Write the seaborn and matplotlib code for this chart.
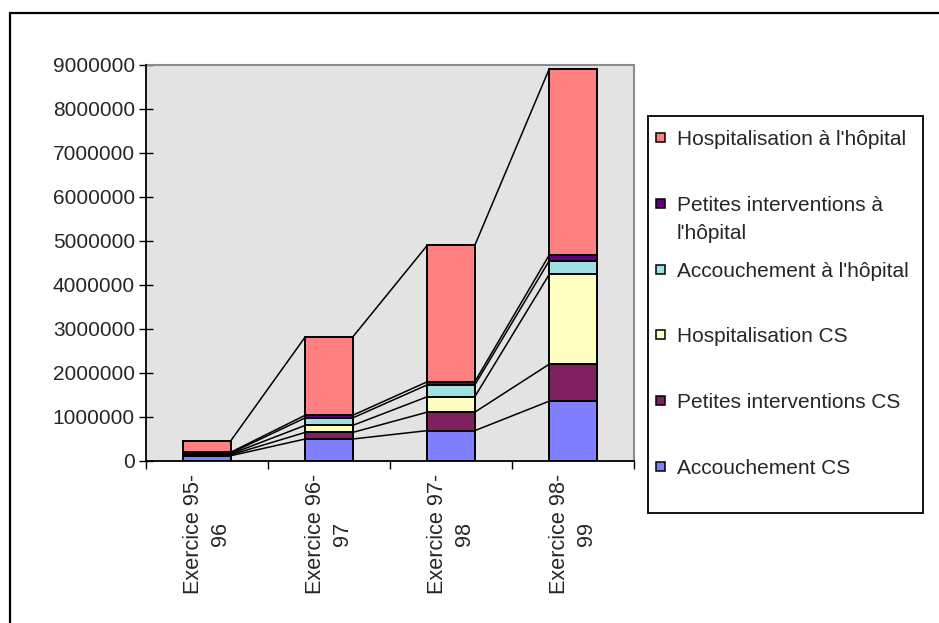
import matplotlib
matplotlib.use("Agg")
import matplotlib.pyplot as plt
from matplotlib.patches import Rectangle
from matplotlib.lines import Line2D
import numpy as np
import pandas as pd
import seaborn as sns

# Exercise periods (x categories)
categories = ["Exercice 95-\n96", "Exercice 96-\n97", "Exercice 97-\n98", "Exercice 98-\n99"]

# Stacked series, bottom to top
series_names = [
    "Accouchement CS",
    "Petites interventions CS",
    "Hospitalisation CS",
    "Accouchement à l'hôpital",
    "Petites interventions à\nl'hôpital",
    "Hospitalisation à l'hôpital",
]
accouchement_cs = [120000, 500000, 690000, 1360000]
petites_interventions_cs = [20000, 150000, 420000, 840000]
hospitalisation_cs = [20000, 160000, 350000, 2040000]
accouchement_hopital = [20000, 170000, 270000, 310000]
petites_interventions_hopital = [20000, 60000, 70000, 130000]
hospitalisation_hopital = [260000, 1780000, 3100000, 4230000]

series_colors = ["#8080FF", "#802060", "#FFFFC0", "#A0E0E0", "#600080", "#FF8080"]
y_ticks = [0, 1000000, 2000000, 3000000, 4000000, 5000000, 6000000, 7000000, 8000000, 9000000]

series_values = [
    accouchement_cs,
    petites_interventions_cs,
    hospitalisation_cs,
    accouchement_hopital,
    petites_interventions_hopital,
    hospitalisation_hopital,
]

sns.set_style("white")
plt.rcParams["font.family"] = ["Liberation Sans", "DejaVu Sans"]

W, H = 939, 623
FS = 15
fig = plt.figure(figsize=(W / 100, H / 100), dpi=100)


def fx(px):
    return px / W


def fy(py):
    return 1 - py / H


ax = fig.add_axes([fx(146), fy(461), fx(634) - fx(146), fy(65) - fy(461)])
ax.set_facecolor("#E3E3E3")

# cumulative stack heights
cum = np.cumsum(np.array(series_values, dtype=float), axis=0)
df = pd.DataFrame({
    "exercice": np.tile(categories, len(series_names)),
    "serie": np.repeat(series_names, len(categories)),
    "cumul": cum.ravel(),
})

bar_width = 0.39
# draw the tallest cumulative bars first so each segment sits on top of the one below
for k in range(len(series_names) - 1, -1, -1):
    sub = df[df["serie"] == series_names[k]]
    sns.barplot(data=sub, x="exercice", y="cumul", color=series_colors[k],
                saturation=1, edgecolor="black", linewidth=1.4, width=bar_width,
                errorbar=None, ax=ax, zorder=2)

# series lines joining segment tops between neighbouring bars
half = bar_width / 2
for k in range(len(series_names)):
    for i in range(len(categories) - 1):
        ax.plot([i + half, i + 1 - half], [cum[k, i], cum[k, i + 1]],
                color="black", lw=1.1, zorder=1.5, solid_capstyle="butt")

ax.set_xlim(-0.5, len(categories) - 0.5)
ax.set_ylim(0, 9000000)
ax.set_yticks(y_ticks)
ax.set_yticklabels([str(v) for v in y_ticks], fontsize=FS)
ax.tick_params(axis="y", direction="inout", length=10, width=1, color="black", pad=3, left=True)

ax.set_xticks(np.arange(-0.5, len(categories), 1.0))
ax.set_xticklabels([])
ax.set_xticks(np.arange(len(categories)), minor=True)
ax.set_xticklabels(categories, minor=True, rotation=90, fontsize=15.6,
                   va="top", ha="center", multialignment="center", linespacing=1.4)
ax.tick_params(axis="x", which="major", direction="out", length=6, width=1, color="black", bottom=True)
ax.tick_params(axis="x", which="minor", length=0, pad=9)
ax.set_xlabel("")
ax.set_ylabel("")

for side in ["left", "bottom"]:
    ax.spines[side].set_color("black")
    ax.spines[side].set_linewidth(1.3)
for side in ["top", "right"]:
    ax.spines[side].set_color("#8C8C8C")
    ax.spines[side].set_linewidth(1.5)
ax.spines["left"].set_zorder(3)
ax.spines["bottom"].set_zorder(3)

# legend box (top series listed first)
fig.add_artist(Rectangle((fx(648), fy(513)), fx(923) - fx(648), fy(116) - fy(513),
                         transform=fig.transFigure, facecolor="white",
                         edgecolor="black", lw=1.3))
entry_y0 = 137.5
entry_step = 65.8
line_step = 28.3
for j, k in enumerate(range(len(series_names) - 1, -1, -1)):
    cy = entry_y0 + j * entry_step
    fig.add_artist(Rectangle((fx(656), fy(cy + 4.5)), fx(9), 9 / H,
                             transform=fig.transFigure, facecolor=series_colors[k],
                             edgecolor="black", lw=1.1))
    for li, line in enumerate(series_names[k].split("\n")):
        fig.text(fx(677), fy(cy + 7.6 + li * line_step), line, fontsize=FS,
                 va="baseline", ha="left")

# outer chart frame
fig.add_artist(Line2D([fx(10), fx(10)], [0, fy(12.5)], transform=fig.transFigure,
                      color="black", lw=1.6))
fig.add_artist(Line2D([fx(10), 1], [fy(12.5), fy(12.5)], transform=fig.transFigure,
                      color="black", lw=1.6))

fig.savefig("out.png", dpi=100, facecolor="white")
